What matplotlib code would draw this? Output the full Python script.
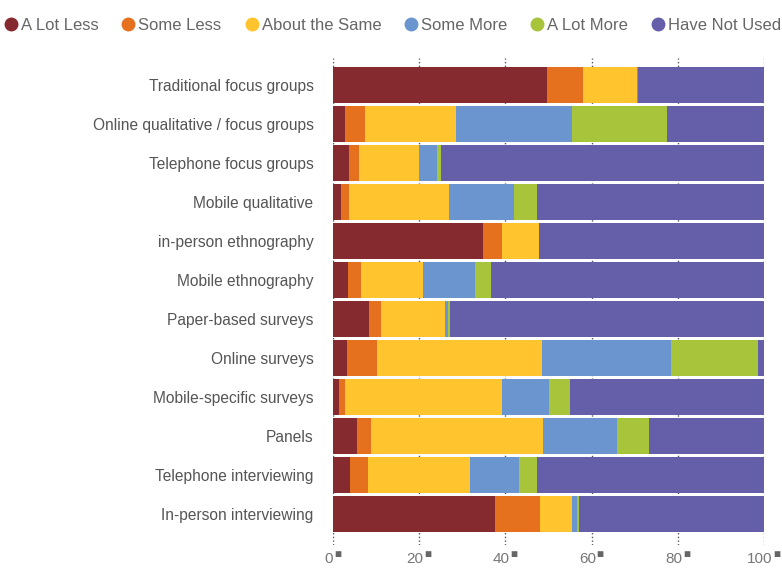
import numpy as np
import matplotlib

matplotlib.use('Agg')

import matplotlib.pyplot as plt
import matplotlib.transforms as mtransforms
from matplotlib.lines import Line2D

plt.rcParams['font.family'] = ['Liberation Sans', 'DejaVu Sans']

# survey methods, top to bottom
methods = [
    'Traditional focus groups',
    'Online qualitative / focus groups',
    'Telephone focus groups',
    'Mobile qualitative',
    'in-person ethnography',
    'Mobile ethnography',
    'Paper-based surveys',
    'Online surveys',
    'Mobile-specific surveys',
    'Panels',
    'Telephone interviewing',
    'In-person interviewing',
]

series = ['A Lot Less', 'Some Less', 'About the Same', 'Some More', 'A Lot More', 'Have Not Used']
colors = ['#852A2E', '#E5711F', '#FFC42E', '#6A95CF', '#A8C43A', '#655EA9']

# percent of respondents
a_lot_less = [49.6, 2.9, 3.7, 1.9, 34.7, 3.4, 8.4, 3.2, 1.4, 5.6, 4.0, 37.7]
some_less = [8.4, 4.6, 2.4, 1.8, 4.4, 3.1, 2.8, 6.9, 1.5, 3.2, 4.2, 10.3]
about_same = [12.5, 21.1, 13.9, 23.2, 8.6, 14.5, 14.7, 38.5, 36.2, 39.9, 23.7, 7.5]
some_more = [0.2, 26.9, 4.1, 15.1, 0.0, 12.0, 0.8, 29.8, 11.0, 17.1, 11.2, 1.0]
a_lot_more = [0.0, 21.9, 1.0, 5.4, 0.0, 3.7, 0.4, 20.2, 4.9, 7.5, 4.2, 0.5]
not_used = [29.3, 22.6, 74.9, 52.6, 52.3, 63.3, 72.9, 1.4, 45.0, 26.7, 52.7, 43.0]

values = [a_lot_less, some_less, about_same, some_more, a_lot_more, not_used]
ticks = [0, 20, 40, 60, 80, 100]

fig = plt.figure(figsize=(7.82, 5.69), dpi=100)
ax = fig.add_axes([0.4258, 0.042, 0.5512, 0.856])

y = np.arange(len(methods))
left = np.zeros(len(methods))
for vals, col in zip(values, colors):
    ax.barh(y, vals, left=left, height=0.925, color=col, zorder=3)
    left += np.array(vals)

ax.set_xlim(0, 100)
ax.set_ylim(11.79, -0.69)
ax.set_yticks(y)
ax.set_yticklabels(methods, fontsize=11.2, color='#555555')
ax.set_xticks(ticks)
ax.set_xticklabels([str(t) for t in ticks], fontsize=11, color='#777777')
ax.tick_params(axis='both', length=0)
ax.tick_params(axis='y', pad=14)
ax.tick_params(axis='x', pad=5)
for s in ax.spines.values():
    s.set_visible(False)

# shift numbers left so "N" + square is centred on the tick
shift = mtransforms.ScaledTranslation(-3 / 72, 0, fig.dpi_scale_trans)
for lab in ax.get_xticklabels():
    lab.set_transform(lab.get_transform() + shift)

# little square after each tick number
for t in ticks:
    off = len(str(t)) * 0.556 * 11 / 2 - 3 + 0.6
    ax.annotate('\u25a0', xy=(t, 0), xycoords=ax.get_xaxis_transform(),
                xytext=(off, -2.5), textcoords='offset points',
                ha='left', va='top', fontsize=8.5, color='#666666',
                annotation_clip=False)

# dotted vertical gridlines
ax.grid(axis='x', color='#555555', linestyle=':', linewidth=1.0, zorder=0)

handles = [Line2D([0], [0], marker='o', linestyle='', markersize=9,
                  markerfacecolor=c, markeredgecolor=c) for c in colors]
fig.legend(handles, series, loc='upper center', bbox_to_anchor=(0.5, 0.995),
           ncol=6, frameon=False, fontsize=12, handletextpad=0.0,
           columnspacing=1.2, labelcolor='#666666', handlelength=1.2)

plt.savefig('out.png', dpi=100)
